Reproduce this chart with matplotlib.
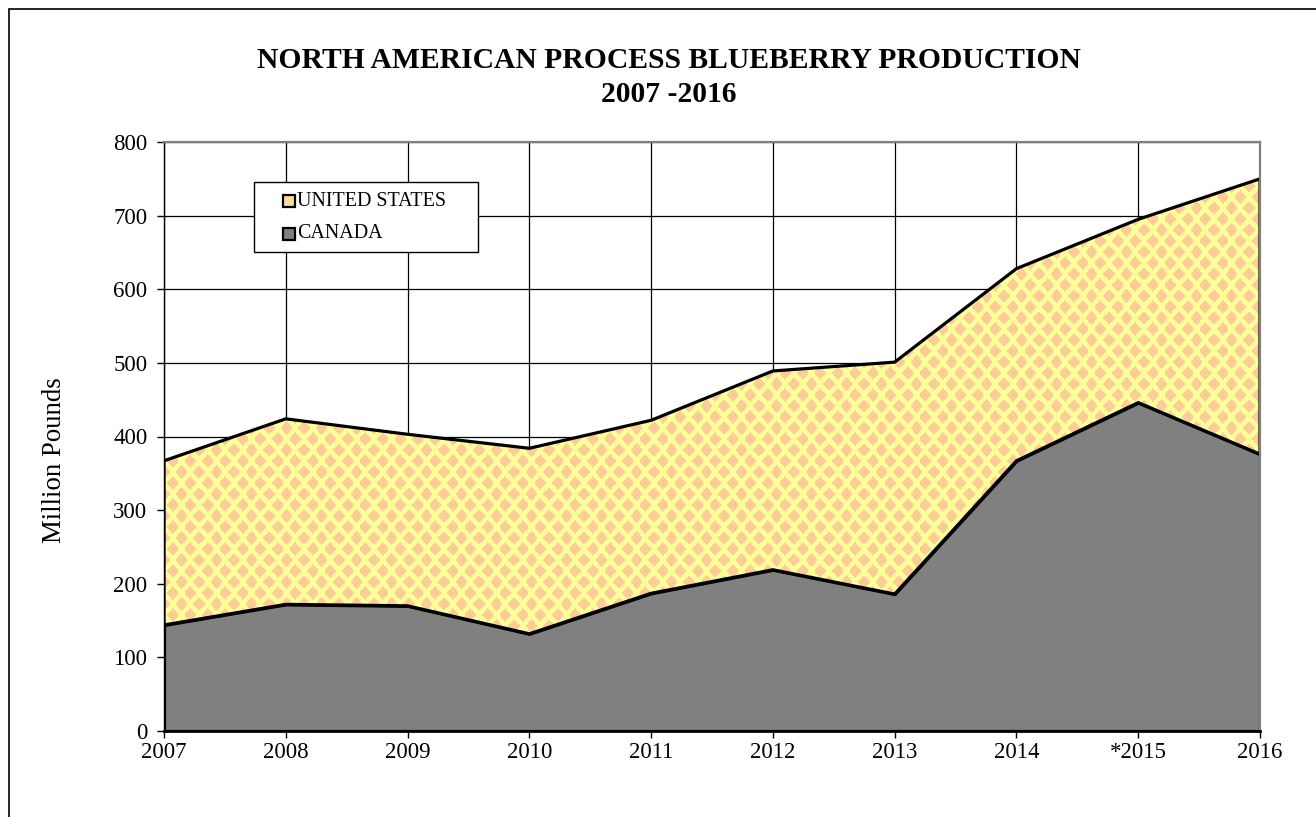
import numpy as np
import matplotlib
matplotlib.use("Agg")
import matplotlib.pyplot as plt
from matplotlib.patches import Rectangle

# ---- data (million pounds) ----
years = ["2007", "2008", "2009", "2010", "2011", "2012", "2013", "2014", "*2015", "2016"]
canada = [144, 172, 170, 132, 187, 219, 186, 367, 446, 376]
united_states = [223, 252, 233, 252, 235, 270, 315, 261, 249, 374]
series_labels = ["UNITED STATES", "CANADA"]
title_lines = ["NORTH AMERICAN PROCESS BLUEBERRY PRODUCTION", "2007 -2016"]
y_ticks = [0, 100, 200, 300, 400, 500, 600, 700, 800]

plt.rcParams["font.family"] = ["Liberation Serif", "DejaVu Serif"]

W, H = 1316, 817
fig = plt.figure(figsize=(W / 100, H / 100), dpi=100)
fig.patch.set_facecolor("white")


def fx(px):
    return px / W


def fy(py):
    return 1 - py / H


ax_left, ax_right, ax_top, ax_bottom = 164, 1260, 142, 731
ax = fig.add_axes([fx(ax_left), fy(ax_bottom), (ax_right - ax_left) / W, (ax_bottom - ax_top) / H])

x = np.arange(len(years))
can = np.array(canada, dtype=float)
total = can + np.array(united_states, dtype=float)

ax.set_xlim(x[0], x[-1])
ax.set_ylim(y_ticks[0], y_ticks[-1])
ax.set_xticks(x)
ax.set_xticklabels(years)
ax.set_yticks(y_ticks)

ax.grid(True, color="black", linewidth=0.9)
ax.set_axisbelow(True)

# Canada area
ax.fill_between(x, 0, can, facecolor="#808080", edgecolor="black", linewidth=2.3, zorder=3)

# United States area with diamond pattern
us_coll = ax.fill_between(x, can, total, facecolor="none", edgecolor="black", linewidth=2.3, zorder=5)

ph, pw = ax_bottom - ax_top, ax_right - ax_left
rr, cc = np.mgrid[0:ph, 0:pw].astype(float)
rr += 0.5
cc += 0.5
per_x, per_y = 17.5, 22.0
hx, hy = 6.2, 6.8


def diamond(c, r):
    dx = np.mod(c, per_x) - per_x / 2
    dy = np.mod(r, per_y) - per_y / 2
    return np.abs(dx) / hx + np.abs(dy) / hy


mask = np.minimum(diamond(cc, rr), diamond(cc + per_x / 2, rr + per_y / 2)) <= 1.0
img = np.empty((ph, pw, 3), dtype=float)
img[:] = np.array([255, 255, 153]) / 255.0
img[mask] = np.array([255, 204, 153]) / 255.0
im = ax.imshow(img, extent=(x[0], x[-1], y_ticks[0], y_ticks[-1]), aspect="auto",
               interpolation="nearest", origin="upper", zorder=4)
im.set_clip_path(us_coll.get_paths()[0], ax.transData)

# spines
for side in ["top", "right"]:
    ax.spines[side].set_color("#808080")
    ax.spines[side].set_linewidth(1.6)
ax.spines["left"].set_color("black")
ax.spines["left"].set_linewidth(1.0)
ax.spines["bottom"].set_color("black")
ax.spines["bottom"].set_linewidth(2.0)
for sp in ax.spines.values():
    sp.set_zorder(6)

ax.tick_params(axis="both", direction="out", length=5, width=1, color="black", labelsize=16.5)
ax.tick_params(axis="y", pad=7)
ax.tick_params(axis="x", pad=3)

# title
fig.text(fx(669), fy(60), title_lines[0], ha="center", va="center", fontsize=21.3, fontweight="bold")
fig.text(fx(669), fy(95), title_lines[1], ha="center", va="center", fontsize=21.3, fontweight="bold")

# y label
fig.text(fx(55), fy(460), "Million Pounds", rotation=90, ha="center", va="center", fontsize=19.3)

# legend (drawn as a boxed key)
fig.add_artist(Rectangle((fx(254), fy(252)), 224 / W, 70 / H, transform=fig.transFigure,
                         facecolor="white", edgecolor="black", linewidth=1.0, zorder=10))
leg_colors = ["#FFDD99", "#808080"]
leg_rows = [201, 234]
for lab, col, ry in zip(series_labels, leg_colors, leg_rows):
    fig.add_artist(Rectangle((fx(283), fy(ry + 6)), 12 / W, 12 / H, transform=fig.transFigure,
                             facecolor=col, edgecolor="black", linewidth=1.6, zorder=11))
    fig.text(fx(297), fy(ry), lab, ha="left", va="center", fontsize=14.4, zorder=12)

# outer chart frame
fig.add_artist(Rectangle((fx(9), -0.1), 1.5, fy(9) + 0.1, transform=fig.transFigure,
                         fill=False, edgecolor="black", linewidth=1.2, zorder=1))

fig.savefig("out.png", dpi=100)
